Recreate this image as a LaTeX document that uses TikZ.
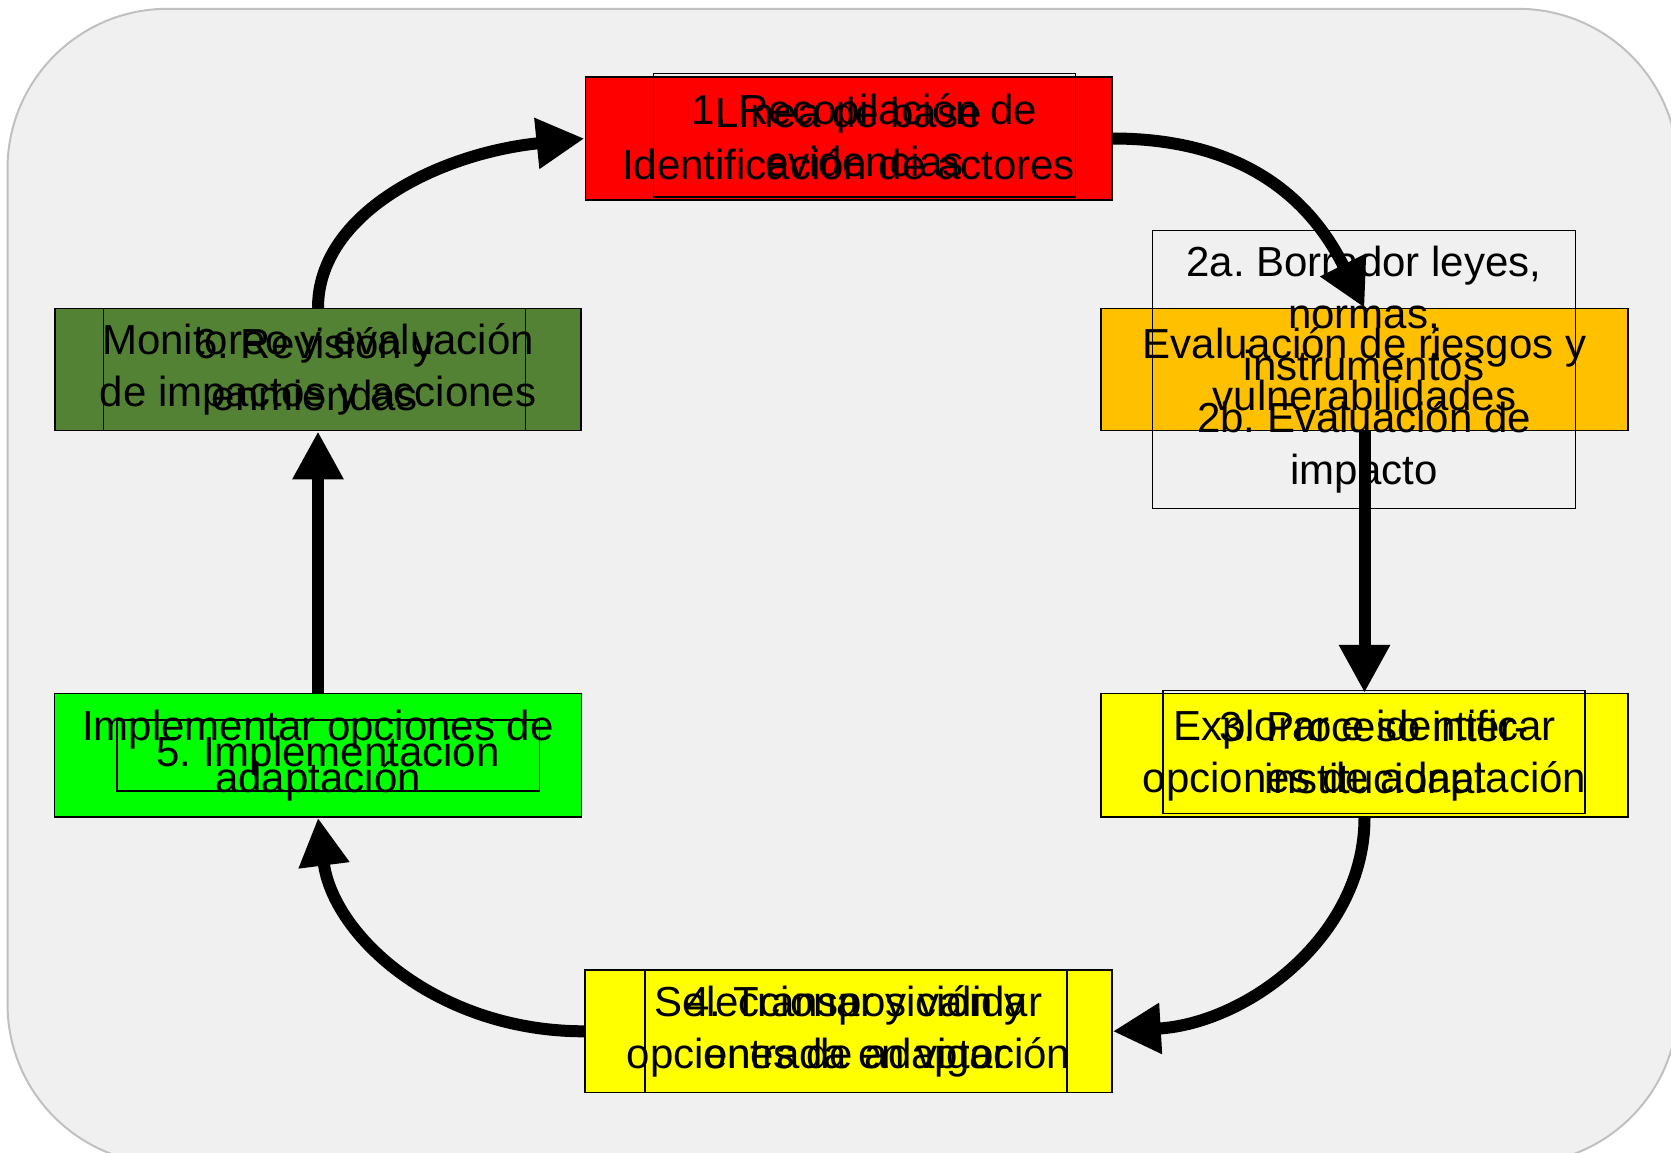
\documentclass[tikz,border=0pt]{standalone}
\usepackage{fontspec}
\setmainfont{Liberation Sans}
\usetikzlibrary{arrows.meta}
\definecolor{bgc}{HTML}{F0F0F0}
\definecolor{bordc}{HTML}{C0C0C0}
\definecolor{redc}{HTML}{FF0000}
\definecolor{orangec}{HTML}{FFC000}
\definecolor{yellowc}{HTML}{FFFF00}
\definecolor{greenc}{HTML}{00FF00}
\definecolor{dgreenc}{HTML}{548235}
\frenchspacing
\begin{document}
\begin{tikzpicture}[x=1pt,y=-1pt,
  box/.style={draw=black, line width=1.5pt, inner sep=0pt, align=center,
    font=\fontsize{42}{52}\selectfont, text=black},
  flow/.style={draw=black, line width=12pt, -{Triangle[length=48pt,width=48pt]}}]
\useasboundingbox (0,0) rectangle (1671,1152);
\clip (0,0) rectangle (1671,1152);
\draw[draw=bordc, fill=bgc, line width=2pt, rounded corners=160pt] (7.5,8.8) rectangle (1678,1164);

% outer boxes
\node[box, fill=redc, minimum width=526.5pt, minimum height=123pt] (red) at (848.5,138.5)
  {Línea de base\\Identificación de actores};
\node[box, minimum width=422pt, minimum height=123.5pt] (redin) at (864.5,135.3)
  {1. Recopilación de\\evidencias};

\node[box, fill=orangec, minimum width=527pt, minimum height=122pt] (orange) at (1364.5,369.6)
  {Evaluación de riesgos y\\vulnerabilidades};
\node[box, minimum width=423pt, minimum height=278pt] (orangein) at (1364,369.5)
  {2a. Borrador leyes,\\normas,\\instrumentos\\2b. Evaluación de\\impacto};

\node[box, fill=yellowc, minimum width=527pt, minimum height=123.4pt] (ry) at (1364.5,755.3)
  {Explorar e identificar\\opciones de adaptación};
\node[box, minimum width=422pt, minimum height=123pt] (ryin) at (1374,752)
  {3. Proceso inter-\\institucional};

\node[box, fill=yellowc, minimum width=527pt, minimum height=122.6pt] (by) at (848.5,1031.3)
  {Seleccionar y validar\\opciones de adaptación};
\node[box, minimum width=422pt, minimum height=122.6pt] (byin) at (856,1031.3)
  {4. Transposición y\\entrada en vigor};

\node[box, fill=greenc, minimum width=527pt, minimum height=123.4pt] (lg) at (318,755.3)
  {Implementar opciones de\\adaptación};
\node[box, minimum width=422.5pt, minimum height=71pt] (lgin) at (328,755.5)
  {5. Implementación};

\node[box, fill=dgreenc, minimum width=526pt, minimum height=122pt] (dg) at (318,369.6)
  {Monitoreo y evaluación\\de impactos y acciones};
\node[box, minimum width=422pt, minimum height=122pt] (dgin) at (314.5,369.6)
  {6. Revisión y\\enmiendas};

% connectors
\draw[flow] (red.east) .. controls +(150,0) and +(-45,-90) .. (orange.north);
\draw[flow] (orange.south) -- (ry.north);
\draw[flow] (ry.south) .. controls +(0,118) and +(135,-8) .. (by.east);
\draw[flow] (by.west) .. controls +(-147,0) and +(15,118) .. (lg.south);
\draw[flow] (lg.north) -- (dg.south);
\draw[flow] (dg.north) .. controls +(0,-94) and +(-147,15) .. (red.west);
\end{tikzpicture}
\end{document}
